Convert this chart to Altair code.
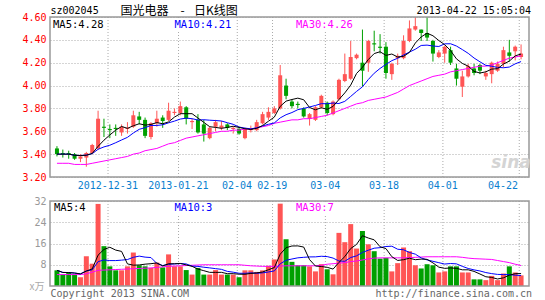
import altair as alt
import pandas as pd

# ---------------- data ----------------
opens = [3.45, 3.41, 3.41, 3.40, 3.36, 3.37, 3.41, 3.45, 3.64, 3.62,
         3.63, 3.59, 3.62, 3.64, 3.73, 3.70, 3.55, 3.67, 3.72, 3.70,
         3.76, 3.76, 3.81, 3.68, 3.70, 3.66, 3.54, 3.64, 3.63, 3.66,
         3.62, 3.62, 3.54, 3.61, 3.61, 3.67, 3.72, 3.76, 3.80, 4.00,
         3.86, 3.84, 3.80, 3.71, 3.70, 3.81, 3.85, 3.75, 3.88, 4.04,
         4.06, 4.24, 4.20, 4.20, 4.37, 4.34, 4.34, 4.10, 4.24, 4.24,
         4.39, 4.49, 4.49, 4.46, 4.39, 4.25, 4.28, 4.31, 4.15, 3.99,
         4.08, 4.15, 4.18, 4.08, 4.10, 4.13, 4.19, 4.29, 4.30, 4.25]
closes = [3.40, 3.40, 3.40, 3.36, 3.38, 3.41, 3.48, 3.71, 3.63, 3.61,
          3.62, 3.64, 3.63, 3.74, 3.70, 3.56, 3.67, 3.71, 3.69, 3.78,
          3.77, 3.82, 3.71, 3.69, 3.59, 3.58, 3.63, 3.68, 3.65, 3.63,
          3.63, 3.58, 3.62, 3.62, 3.68, 3.75, 3.77, 3.80, 4.09, 3.91,
          3.82, 3.83, 3.73, 3.75, 3.81, 3.91, 3.76, 3.86, 4.05, 4.10,
          4.25, 4.27, 4.13, 4.39, 4.36, 4.33, 4.11, 4.19, 4.26, 4.39,
          4.50, 4.52, 4.46, 4.42, 4.28, 4.29, 4.34, 4.20, 4.06, 4.08,
          4.17, 4.11, 4.13, 4.11, 4.20, 4.19, 4.31, 4.26, 4.34, 4.28]
highs = [3.47, 3.44, 3.43, 3.41, 3.40, 3.42, 3.49, 3.78, 3.71, 3.66,
         3.66, 3.66, 3.68, 3.78, 3.77, 3.72, 3.68, 3.78, 3.74, 3.85,
         3.80, 3.86, 3.82, 3.71, 3.75, 3.70, 3.64, 3.70, 3.69, 3.67,
         3.64, 3.64, 3.63, 3.65, 3.70, 3.77, 3.81, 3.82, 4.18, 4.06,
         3.88, 3.86, 3.81, 3.76, 3.82, 3.92, 3.86, 3.87, 4.06, 4.28,
         4.39, 4.28, 4.49, 4.40, 4.48, 4.45, 4.38, 4.20, 4.28, 4.44,
         4.57, 4.60, 4.49, 4.60, 4.40, 4.31, 4.35, 4.34, 4.19, 4.13,
         4.19, 4.19, 4.19, 4.13, 4.21, 4.21, 4.34, 4.40, 4.35, 4.36]
lows = [3.38, 3.37, 3.36, 3.35, 3.33, 3.29, 3.40, 3.44, 3.55, 3.54,
        3.56, 3.56, 3.58, 3.63, 3.66, 3.54, 3.53, 3.64, 3.63, 3.69,
        3.74, 3.74, 3.66, 3.62, 3.58, 3.51, 3.53, 3.60, 3.61, 3.61,
        3.58, 3.57, 3.53, 3.59, 3.60, 3.66, 3.70, 3.75, 3.79, 3.88,
        3.80, 3.80, 3.72, 3.65, 3.69, 3.80, 3.74, 3.74, 3.87, 4.03,
        4.05, 4.23, 3.99, 4.12, 4.30, 4.28, 4.06, 4.05, 4.18, 4.23,
        4.38, 4.48, 4.39, 4.39, 4.21, 4.24, 4.20, 4.18, 4.00, 3.90,
        4.07, 4.09, 4.10, 4.05, 4.02, 4.12, 4.16, 4.21, 4.22, 4.23]
volumes = [5.9, 4.3, 5.0, 4.3, 3.3, 11.2, 8.4, 30.9, 15.0, 7.4,
           5.9, 5.9, 7.4, 12.6, 7.8, 7.4, 6.8, 8.8, 7.0, 11.9,
           7.4, 7.4, 6.0, 4.3, 6.8, 4.3, 4.3, 6.0, 4.3, 4.3,
           4.3, 3.3, 5.9, 5.9, 5.3, 5.9, 7.6, 10.0, 31.0, 17.6,
           9.1, 7.8, 7.8, 7.4, 5.5, 8.2, 6.3, 4.4, 20.0, 16.5,
           23.3, 14.1, 20.7, 15.7, 13.1, 10.3, 10.6, 5.5, 8.6, 14.5,
           13.1, 7.8, 6.6, 8.2, 7.8, 5.1, 5.5, 7.4, 7.4, 5.1,
           5.1, 2.5, 2.5, 2.2, 3.8, 2.2, 4.7, 7.4, 5.1, 4.0]
ma30_price = [3.32, 3.32, 3.32, 3.31, 3.31, 3.31, 3.32, 3.33, 3.34, 3.35,
              3.36, 3.37, 3.38, 3.40, 3.41, 3.43, 3.44, 3.45, 3.47, 3.49,
              3.50, 3.52, 3.54, 3.55, 3.56, 3.57, 3.58, 3.59, 3.60, 3.60,
              3.61, 3.61, 3.62, 3.62, 3.63, 3.64, 3.65, 3.67, 3.68, 3.69,
              3.70, 3.70, 3.71, 3.71, 3.72, 3.73, 3.74, 3.76, 3.78, 3.80,
              3.82, 3.84, 3.85, 3.87, 3.88, 3.89, 3.90, 3.92, 3.94, 3.97,
              4.00, 4.02, 4.04, 4.06, 4.08, 4.09, 4.10, 4.12, 4.13, 4.14,
              4.15, 4.16, 4.17, 4.17, 4.18, 4.20, 4.22, 4.24, 4.25, 4.26]
ma30_volume = [4.3, 4.3, 4.3, 4.3, 4.3, 4.6, 5.2, 5.9, 6.0, 6.1,
               6.2, 6.3, 6.4, 6.5, 6.6, 6.7, 6.8, 7.0, 7.2, 7.4,
               7.5, 7.6, 7.7, 7.8, 7.9, 8.0, 8.0, 8.0, 8.0, 8.0,
               8.0, 8.0, 7.8, 7.6, 7.5, 7.4, 7.4, 7.4, 7.5, 7.6,
               7.6, 7.6, 7.6, 7.6, 7.6, 7.8, 8.2, 8.4, 8.6, 8.8,
               9.2, 9.4, 9.8, 10.2, 10.5, 10.6, 10.6, 10.6, 10.6, 10.6,
               10.7, 10.8, 10.9, 11.0, 11.0, 11.0, 11.0, 11.0, 11.0, 10.8,
               10.5, 10.3, 10.2, 10.1, 10.0, 9.6, 9.2, 8.8, 8.2, 7.7]

tick_k = [9, 21, 31, 37, 46, 56, 66, 79]
tick_labels = ["2012-12-31", "2013-01-21", "02-04", "02-19",
               "03-04", "03-18", "04-01", "04-22"]
price_ticks = [3.2, 3.4, 3.6, 3.8, 4.0, 4.2, 4.4, 4.6]
volume_ticks = [8, 16, 24, 32]

# ---------------- styling ----------------
W, H = 479, 269
RED, GREEN = "#ff5555", "#00a000"
MONO = "DejaVu Sans Mono"
CJK = "Noto Sans CJK SC"
GRID = "#aaaaaa"

df = pd.DataFrame({"k": list(range(len(opens))), "open": opens, "close": closes,
                   "high": highs, "low": lows, "vol": volumes,
                   "ma30": ma30_price, "vma30": ma30_volume})
ticks_df = pd.DataFrame({"k": tick_k, "label": tick_labels})

xs = alt.Scale(domain=[-1 / 3, 79.5], nice=False, zero=False)
ps = alt.Scale(domain=[3.2, 4.6], range=[160, 0], nice=False, zero=False)
vs = alt.Scale(domain=[0, 32], range=[269, 184], nice=False, zero=False)
X = alt.X("k:Q", scale=xs, axis=None)
color_cond = alt.condition("datum.close >= datum.open", alt.value(RED), alt.value(GREEN))
base = alt.Chart(df)

# axes (with horizontal dotted grid)
price_axis = alt.Chart(pd.DataFrame({"v": price_ticks})).mark_point(opacity=0).encode(
    y=alt.Y("v:Q", scale=ps, axis=alt.Axis(
        values=price_ticks, format=".2f", title="", orient="left", grid=True,
        gridDash=[1, 2], gridColor=GRID, domain=False, ticks=False,
        labelColor="#ff0000", labelFont=MONO, labelFontSize=10, labelPadding=4)))
vol_axis = alt.Chart(pd.DataFrame({"v": volume_ticks})).mark_point(opacity=0).encode(
    y=alt.Y("v:Q", scale=vs, axis=alt.Axis(
        values=volume_ticks, format="d", title="", orient="left", grid=True,
        gridDash=[1, 2], gridColor=GRID, domain=False, ticks=False,
        labelColor="#999999", labelFont=MONO, labelFontSize=10, labelPadding=4)))

# vertical dotted grid
vgrid_price = alt.Chart(ticks_df).mark_rule(color=GRID, strokeDash=[1, 2], xOffset=-1.8).encode(
    x=X, y=alt.YDatum(4.6, type="quantitative", scale=ps, axis=None), y2=alt.Y2Datum(3.2))
vgrid_vol = alt.Chart(ticks_df).mark_rule(color=GRID, strokeDash=[1, 2], xOffset=-1.8).encode(
    x=X, y=alt.YDatum(32, type="quantitative", scale=vs, axis=None), y2=alt.Y2Datum(0))

# candles
wicks = base.mark_rule(strokeWidth=1).encode(
    x=X, y=alt.Y("low:Q", scale=ps, axis=None), y2="high:Q", color=color_cond)
bodies = base.mark_bar(size=4, orient="vertical").encode(
    x=X, y=alt.Y("open:Q", scale=ps, axis=None), y2="close:Q", color=color_cond)

ma5 = base.transform_window(ma5="mean(close)", frame=[-4, 0], sort=[alt.SortField("k")]).mark_line(
    color="black", strokeWidth=1).encode(x=X, y=alt.Y("ma5:Q", scale=ps, axis=None))
ma10 = base.transform_window(ma10="mean(close)", frame=[-9, 0], sort=[alt.SortField("k")]).mark_line(
    color="#0000ff", strokeWidth=1).encode(x=X, y=alt.Y("ma10:Q", scale=ps, axis=None))
ma30 = base.mark_line(color="#ff00ff", strokeWidth=1).encode(
    x=X, y=alt.Y("ma30:Q", scale=ps, axis=None))

# volume
vbars = base.mark_bar(size=5, orient="vertical").encode(
    x=X, y=alt.Y("vol:Q", scale=vs, axis=None), color=color_cond)
vma5 = base.transform_window(v5="mean(vol)", frame=[-4, 0], sort=[alt.SortField("k")]).mark_line(
    color="black", strokeWidth=1).encode(x=X, y=alt.Y("v5:Q", scale=vs, axis=None))
vma10 = base.transform_window(v10="mean(vol)", frame=[-9, 0], sort=[alt.SortField("k")]).mark_line(
    color="#0000ff", strokeWidth=1).encode(x=X, y=alt.Y("v10:Q", scale=vs, axis=None))
vma30 = base.mark_line(color="#ff00ff", strokeWidth=1).encode(
    x=X, y=alt.Y("vma30:Q", scale=vs, axis=None))

# panel borders
border_p = alt.Chart(pd.DataFrame({"a": [0]})).mark_rect(fillOpacity=0, stroke="#999999", strokeWidth=1.5).encode(
    x=alt.value(0), x2=alt.value(W),
    y=alt.YDatum(4.6, type="quantitative", scale=ps, axis=None), y2=alt.Y2Datum(3.2))
border_v = alt.Chart(pd.DataFrame({"a": [0]})).mark_rect(fillOpacity=0, stroke="#999999", strokeWidth=1.5).encode(
    x=alt.value(W and 0), x2=alt.value(W),
    y=alt.YDatum(32, type="quantitative", scale=vs, axis=None), y2=alt.Y2Datum(0))

# x labels between panels
xlab_c = alt.Chart(ticks_df[ticks_df.k != 79]).mark_text(
    font=MONO, fontSize=10, color="#0a7fcf", align="center", baseline="middle", dx=-2).encode(
    x=X, y=alt.value(169), text="label:N")
xlab_r = alt.Chart(ticks_df[ticks_df.k == 79]).mark_text(
    font=MONO, fontSize=10, color="#0a7fcf", align="right", baseline="middle", dx=-3).encode(
    x=X, y=alt.value(169), text="label:N")


def label(text, x, y, color, size=10, align="left", font=MONO, weight="normal", italic=False):
    kw = dict(font=font, fontSize=size, color=color, align=align, baseline="middle", fontWeight=weight)
    if italic:
        kw["fontStyle"] = "italic"
    return alt.Chart(pd.DataFrame({"t": [text]})).mark_text(**kw).encode(
        text="t:N", x=alt.value(x), y=alt.value(y))


def bg(x0, x1, y0, y1):
    return alt.Chart(pd.DataFrame({"a": [0]})).mark_rect(color="white").encode(
        x=alt.value(x0), x2=alt.value(x1), y=alt.value(y0), y2=alt.value(y1))


texts = [
    label("sz002045", 0.5, -6, "black"),
    label("国光电器", 70.5, -6, "black", size=12, font=CJK),
    label("-", 132.5, -6, "black", size=12, font=CJK, align="center"),
    label("日K线图", 144, -6, "black", size=12, font=CJK),
    label("2013-04-22 15:05:04", 481, -6, "black", align="right"),
    label("MA5:4.28", 3, 8, "black", size=10.5),
    label("MA10:4.21", 124.5, 8, "#0000ff", size=10.5),
    label("MA30:4.26", 246, 8, "#ff00ff", size=10.5),
    label("MA5:4", 4, 191, "black", size=10.5),
    label("MA10:3", 124.5, 191, "#0000ff", size=10.5),
    label("MA30:7", 246, 191, "#ff00ff", size=10.5),
    label("x万", -5.5, 270, "#aaaaaa", align="right", font=CJK),
    label("Copyright 2013 SINA.COM", 0.5, 277, "#666666"),
    label("http://finance.sina.com.cn", 482, 277, "#666666", align="right"),
    label("sina", 461, 146, "#d4d4d4", size=17, weight="bold", italic=True, font="DejaVu Sans", align="center"),
]
backs = [bg(2, 54, 2, 14), bg(123, 181, 2, 14), bg(245, 302, 2, 14),
         bg(3, 37, 185, 197), bg(123, 163, 185, 197), bg(245, 284, 185, 197)]

chart = alt.layer(
    price_axis, vol_axis, vgrid_price, vgrid_vol, *backs,
    wicks, bodies, ma30, ma10, ma5,
    vbars, vma30, vma10, vma5,
    border_p, border_v, xlab_c, xlab_r, *texts
).resolve_scale(y="independent").properties(
    width=W, height=H,
    padding={"left": 50, "top": 17, "right": 16, "bottom": 14},
    autosize=alt.AutoSizeParams(type="none"),
    background="white",
).configure_view(strokeWidth=0)

chart.save("out.html", embed_options={"renderer": "svg", "actions": False})
